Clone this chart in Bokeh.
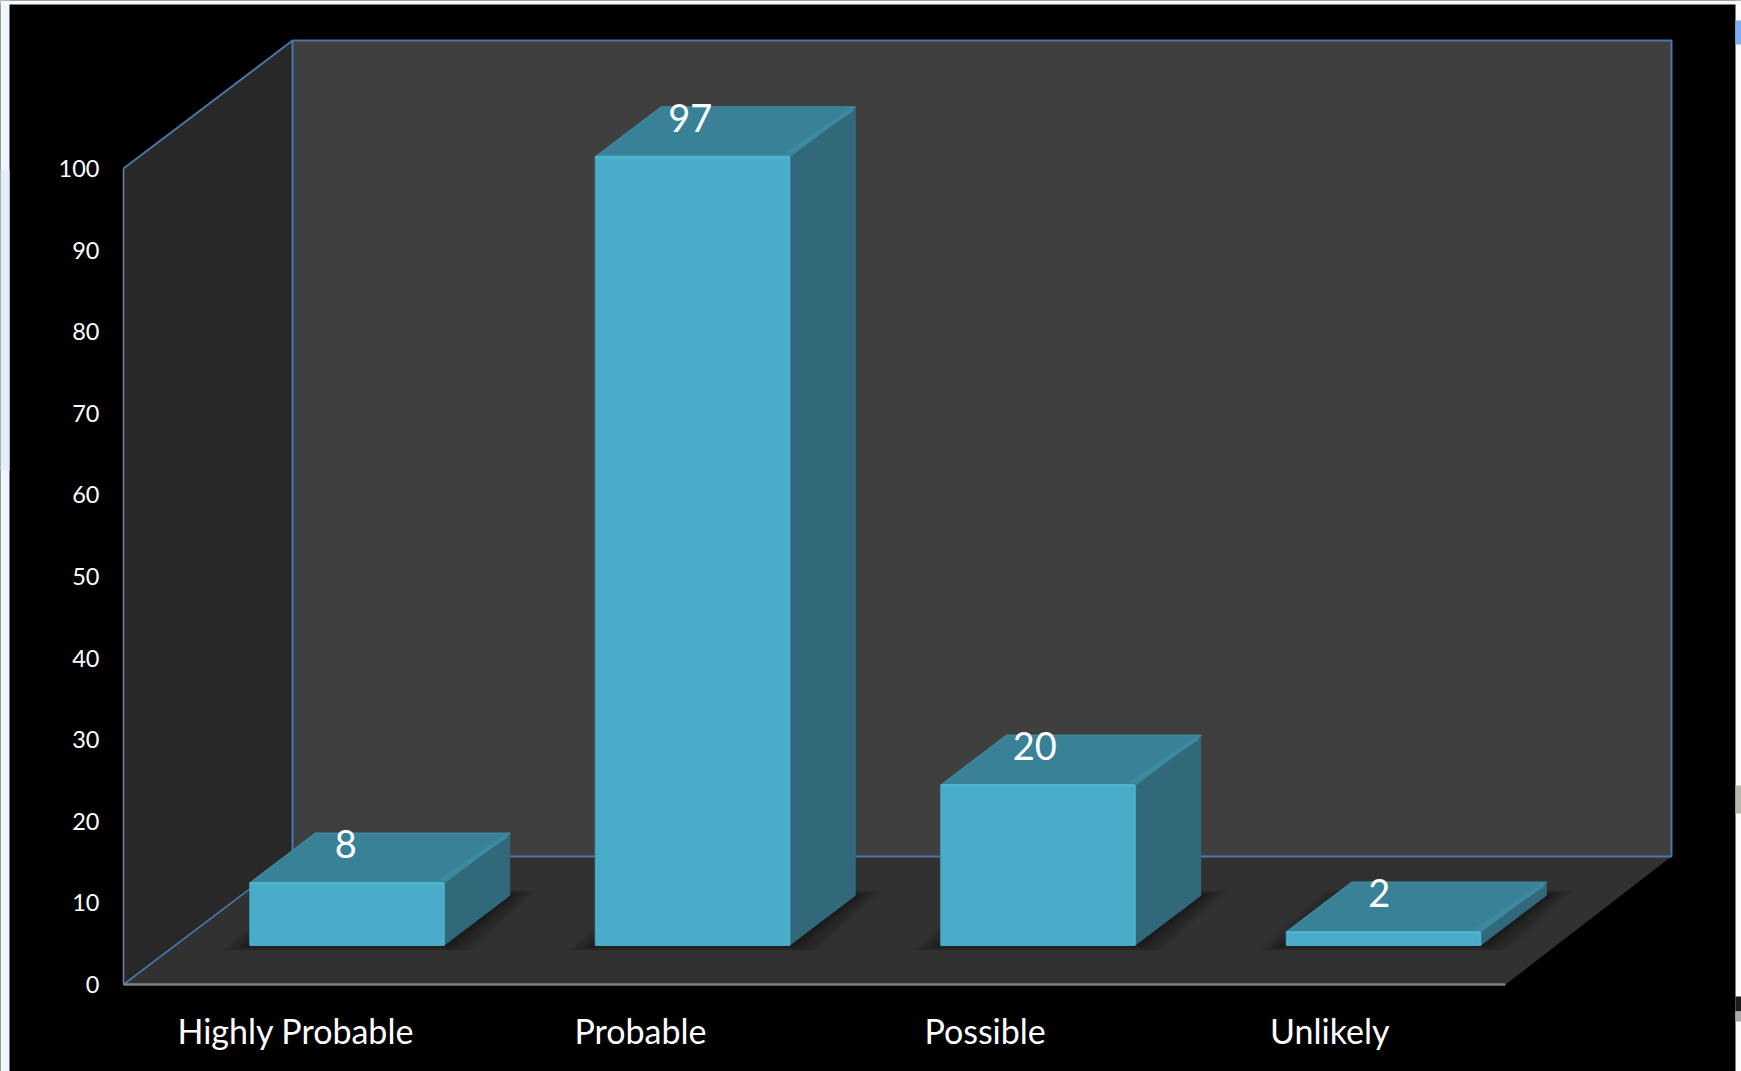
from bokeh.core.properties import value
from bokeh.embed import file_html
from bokeh.models import FixedTicker, Range1d
from bokeh.plotting import figure
from bokeh.resources import INLINE

# Chart content
categories = ["Highly Probable", "Probable", "Possible", "Unlikely"]
counts = [8, 97, 20, 2]
y_ticks = [0, 10, 20, 30, 40, 50, 60, 70, 80, 90, 100]

# Canvas and projection set-up, in pixels
W, H = 1741, 1071
ORIGIN_X, ORIGIN_Y = 123, 984   # where the front floor edge meets the value axis
SLOT_PX = 345.5                 # width of one category along the front edge
UNIT_PX = 8.16                  # pixels per value unit
DEPTH_X_PX, DEPTH_Y_PX = 169, 128  # total oblique shift of the back wall
BACK_W_PX = 1379                # back wall is slightly narrower than the front edge
BAR_W_PX = 194
BAR_FOOT_PX = 39                # floor depth at which a bar's front face stands
BAR_ZERO_PX = 36                # height of the zero level of the bars above the front edge
BAR_DEPTH_PX = 50

DX = DEPTH_X_PX / SLOT_PX
DY = DEPTH_Y_PX / UNIT_PX
BW = BAR_W_PX / SLOT_PX
BACK_W = BACK_W_PX / SLOT_PX
Y_MAX = 100
N = len(categories)


def px(x):
    return (x - ORIGIN_X) / SLOT_PX


def py(y):
    return (ORIGIN_Y - y) / UNIT_PX


p = figure(
    width=W, height=H,
    x_range=Range1d(px(0), px(W)), y_range=Range1d(py(H), py(0)),
    output_backend="svg", toolbar_location=None,
    min_border=0, outline_line_color=None,
    background_fill_color="#000000", border_fill_color="#000000",
)
p.grid.visible = False

# Walls and floor of the 3D box
p.patch([0, DX, DX, 0], [0, DY, DY + Y_MAX, Y_MAX], fill_color="#282828", line_color=None)
p.patch([DX, DX + BACK_W, DX + BACK_W, DX], [DY, DY, DY + Y_MAX, DY + Y_MAX], fill_color="#3f3f3f", line_color=None)
p.patch([0, N, DX + BACK_W, DX], [0, 0, DY, DY], fill_color="#313131", line_color=None)

WALL = "#4a76a8"
p.line(
    [DX, DX + BACK_W, DX + BACK_W, DX, DX], [DY, DY, DY + Y_MAX, DY + Y_MAX, DY],
    line_color=WALL, line_width=2,
)
p.line([0, DX], [0, DY], line_color=WALL, line_width=1.6)
p.line([0, DX], [Y_MAX, Y_MAX + DY], line_color=WALL, line_width=2)

# Bar corner coordinates
foot = BAR_FOOT_PX / UNIT_PX
shift = foot * DX / DY
zero = BAR_ZERO_PX / UNIT_PX
x0 = [i + (1 - 196 / SLOT_PX) / 2 + shift for i in range(N)]
x1 = [a + BW for a in x0]
tops = [zero + v for v in counts]
ddy = BAR_DEPTH_PX / UNIT_PX
ddx = ddy * DX / DY

# Soft contact shadows on the floor, built from many faint stacked layers
for grow in (28, 26, 24, 22, 20, 18, 16, 14, 12, 11, 10, 9, 8, 7, 6, 5, 4, 3, 2, 1):
    gx, gy = grow / SLOT_PX, grow * 0.2 / UNIT_PX
    p.patches(
        [[a - gx, b + gx, b + ddx + gx, a + ddx - gx] for a, b in zip(x0, x1)],
        [[foot - gy, foot - gy, foot + ddy + gy, foot + ddy + gy] for _ in x0],
        fill_color="#000000", fill_alpha=0.024, line_color=None,
    )

# Right side, top and front faces
p.patches(
    [[b, b + ddx, b + ddx, b] for b in x1],
    [[foot, foot + ddy, t + ddy, t] for t in tops],
    fill_color="#31697b", line_color="#31697b", line_width=1, line_join="round",
)
p.patches(
    [[a, b, b + ddx, a + ddx] for a, b in zip(x0, x1)],
    [[t, t, t + ddy, t + ddy] for t in tops],
    fill_color="#398197", line_color="#3c8aa1", line_width=1.5, line_join="round",
)
p.quad(left=x0, right=x1, bottom=foot, top=tops, fill_color="#49acc8", line_color="#46a4bf", line_width=1)

# Bevel highlights along the bar edges
inset = 3 / SLOT_PX
p.segment(x0, tops, x1, tops, line_color="#4db3cf", line_width=2.5)
p.segment(x1, tops, x1, foot, line_color="#4db3cf", line_width=2)
p.segment(
    [b - inset for b in x1], [t + 0.3 for t in tops],
    [b + ddx - inset for b in x1], [t + ddy - 0.3 for t in tops],
    line_color="#3d89a0", line_width=4,
)

# Value labels sit on the top face of each bar
p.text(
    [a + (96 - i) / SLOT_PX for i, a in enumerate(x0)], tops, text=[str(v) for v in counts],
    text_font=value("Lato"), text_font_size="38px", text_color="#ffffff",
    text_align="center", text_baseline="middle", y_offset=-39,
)

# Value axis
yaxis = p.yaxis[0]
yaxis.fixed_location = 0
yaxis.bounds = (0, Y_MAX)
yaxis.ticker = FixedTicker(ticks=y_ticks)
yaxis.axis_line_color = "#6a7f95"
yaxis.axis_line_width = 1.6
yaxis.major_tick_line_color = None
yaxis.minor_tick_line_color = None
yaxis.major_tick_in = 0
yaxis.major_tick_out = 0
yaxis.major_label_standoff = 24
yaxis.major_label_text_color = "#ffffff"
yaxis.major_label_text_font = "Lato"
yaxis.major_label_text_font_size = "23.5px"

# Category axis along the front floor edge
label_at = [(i + 0.5) * 0.9975 for i in range(N)]
xaxis = p.xaxis[0]
xaxis.fixed_location = 0
xaxis.bounds = (0, N)
xaxis.ticker = FixedTicker(ticks=label_at)
xaxis.major_label_overrides = dict(zip(label_at, categories))
xaxis.axis_line_color = "#808080"
xaxis.axis_line_width = 2.5
xaxis.major_tick_line_color = None
xaxis.minor_tick_line_color = None
xaxis.major_tick_in = 0
xaxis.major_tick_out = 0
xaxis.major_label_standoff = 25
xaxis.major_label_text_color = "#ffffff"
xaxis.major_label_text_font = "Lato"
xaxis.major_label_text_font_size = "34px"

# Pale page margin around the black panel, with what shows of the page behind it
MARGIN = "#f2f6fc"
p.quad(left=px(0), right=px(9), bottom=py(H), top=py(0), fill_color=MARGIN, line_color=None)
p.quad(left=px(0), right=px(9), bottom=py(470), top=py(170), fill_color="#e4edf8", line_color=None)
p.quad(left=px(1735), right=px(W), bottom=py(H), top=py(0), fill_color="#fbfcfe", line_color=None)
p.quad(left=px(0), right=px(W), bottom=py(4), top=py(0), fill_color="#f7f9fc", line_color=None)
p.quad(left=px(1735), right=px(W), bottom=py(44), top=py(20), fill_color="#7ab0f0", line_color=None)
p.quad(left=px(1735), right=px(W), bottom=py(813), top=py(785), fill_color="#b9b9ab", line_color=None)
p.quad(left=px(1735), right=px(W), bottom=py(1011), top=py(996), fill_color="#1c1c1c", line_color=None)
p.quad(left=px(1735), right=px(W), bottom=py(1021), top=py(1011), fill_color="#a8a8a8", line_color=None)

open("out.html", "w").write(file_html(p, INLINE))
